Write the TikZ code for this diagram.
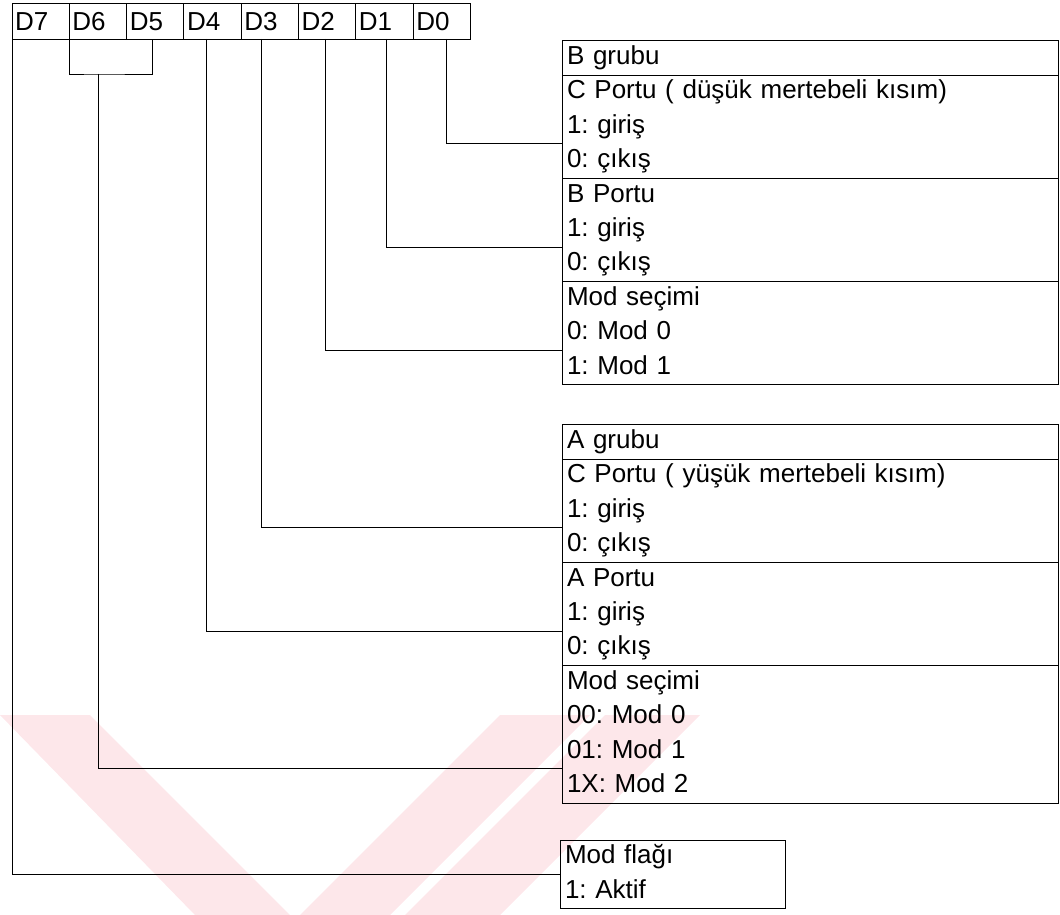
\documentclass[tikz,border=0pt]{standalone}
\usepackage{fontspec}
\setmainfont{Liberation Sans}
\usetikzlibrary{positioning}
\frenchspacing
\definecolor{wmpink}{RGB}{253,231,234}
\newcommand{\regfont}{\fontsize{26}{31}\selectfont}
\tikzset{
  bitcell/.style={draw, line width=0.9pt, minimum width=57.3pt, minimum height=36pt, inner sep=0pt, outer sep=0pt,
    text width=51pt, align=left, font=\regfont, text height=19pt, text depth=0pt},
  row/.style={minimum height=34.4pt, inner xsep=5pt, inner ysep=0pt, outer sep=0pt, text width=486pt,
    align=left, anchor=north west, font=\regfont, text height=19pt, text depth=5.5pt},
  shortrow/.style={row, text width=215pt},
  frame/.style={draw, line width=0.9pt},
  link/.style={draw, line width=0.9pt}
}

\begin{document}
\begin{tikzpicture}[x=1pt,y=-1pt]
\useasboundingbox (0,0) rectangle (1060,915);
% watermark stripes
\fill[wmpink] (0,715) -- (90,715) -- (290,915) -- (195,915) -- cycle;
\fill[wmpink] (300,915) -- (390,915) -- (590,715) -- (500,715) -- cycle;
\fill[wmpink] (405,915) -- (500,915) -- (700,715) -- (605,715) -- cycle;
% control word
\node[bitcell, anchor=north west] (d7) at (12,3) {D7};
\foreach \b [evaluate=\b as \p using int(\b+1)] in {6,5,...,0} {\node[bitcell, right=0pt of d\p] (d\b) {D\b};}
% B grubu
\node[row] (bg) at (562,40.6) {B grubu};
\node[row, below=0pt of bg] (cl1) {C Portu ( düşük mertebeli kısım)};
\node[row, below=0pt of cl1] (cl2) {1: giriş};
\node[row, below=0pt of cl2] (cl3) {0: çıkış};
\node[row, below=0pt of cl3] (bp1) {B Portu};
\node[row, below=0pt of bp1] (bp2) {1: giriş};
\node[row, below=0pt of bp2] (bp3) {0: çıkış};
\node[row, below=0pt of bp3] (ms1) {Mod seçimi};
\node[row, below=0pt of ms1] (ms2) {0: Mod 0};
\node[row, below=0pt of ms2] (ms3) {1: Mod 1};
\draw[frame] (bg.north west) rectangle (bg.south east);
\draw[frame] (cl1.north west) rectangle (cl3.south east);
\draw[frame] (bp1.north west) rectangle (bp3.south east);
\draw[frame] (ms1.north west) rectangle (ms3.south east);
% A grubu
\node[row] (ag) at (562,424.6) {A grubu};
\node[row, below=0pt of ag] (ch1) {C Portu ( yüşük mertebeli kısım)};
\node[row, below=0pt of ch1] (ch2) {1: giriş};
\node[row, below=0pt of ch2] (ch3) {0: çıkış};
\node[row, below=0pt of ch3] (ap1) {A Portu};
\node[row, below=0pt of ap1] (ap2) {1: giriş};
\node[row, below=0pt of ap2] (ap3) {0: çıkış};
\node[row, below=0pt of ap3] (mb1) {Mod seçimi};
\node[row, below=0pt of mb1] (mb2) {00: Mod 0};
\node[row, below=0pt of mb2] (mb3) {01: Mod 1};
\node[row, below=0pt of mb3] (mb4) {1X: Mod 2};
\draw[frame] (ag.north west) rectangle (ag.south east);
\draw[frame] (ch1.north west) rectangle (ch3.south east);
\draw[frame] (ap1.north west) rectangle (ap3.south east);
\draw[frame] (mb1.north west) rectangle (mb4.south east);
% mod flag
\node[shortrow] (mf) at (560,840) {Mod flağı};
\node[shortrow, below=0pt of mf] (ak) {1: Aktif};
\draw[frame] (mf.north west) rectangle (ak.south east);
% bit lines
\draw[link] ([xshift=4.5pt]d0.south) |- (cl2.south west);
\draw[link] ([xshift=2pt]d1.south) |- (bp2.south west);
\draw[link] ([xshift=-1.5pt]d2.south) |- (ms2.south west);
\draw[link] ([xshift=-8.5pt]d3.south) |- (ch2.south west);
\draw[link] ([xshift=-6pt]d4.south) |- (ap2.south west);
\coordinate[below=35pt of d6] (brk);
\draw[link] (d6.south west) |- (brk) -| ([xshift=-3pt]d5.south);
\draw[link] (brk) |- (mb3.south west);
\draw[link] (d7.south west) |- (mf.south west);
\end{tikzpicture}
\end{document}
